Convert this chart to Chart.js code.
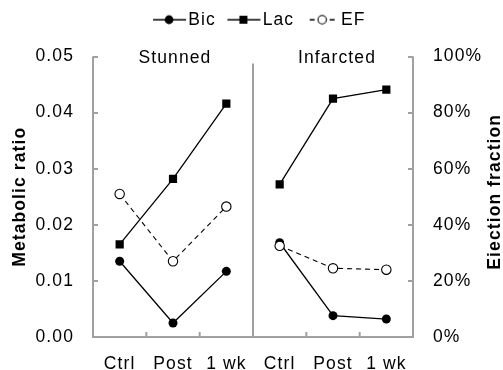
<!DOCTYPE html>
<html>
<head>
<meta charset="utf-8">
<script src="https://cdn.jsdelivr.net/npm/chart.js@4.4.1/dist/chart.umd.min.js"></script>
<style>
html, body { margin: 0; padding: 0; background: #fff; }
#wrap { width: 503px; height: 370px; }
</style>
</head>
<body>
<div id="wrap"><canvas id="myChart"></canvas></div>
<script>
// values
var labels = ["Ctrl", "Post", "1 wk", "Ctrl", "Post", "1 wk"];
var panels = ["Stunned", "Infarcted"];
var bic = [0.0135, 0.0025, 0.0117, 0.0168, 0.0038, 0.0032];
var lac = [0.0165, 0.0282, 0.0416, 0.0272, 0.0425, 0.0441];
var ef = [51, 27, 46.5, 32.5, 24.5, 24];

var axisGray = '#a0a0a0';
var FONT = "'Liberation Sans', Arial, sans-serif";
var SPACING = '1.1px';
Chart.defaults.font.family = FONT;
Chart.defaults.font.size = 17.5;
Chart.defaults.color = '#000';

// no line between the two panels
function gap(color) {
	return function (ctx) { return ctx.p0DataIndex === 2 ? 'rgba(0,0,0,0)' : color; };
}

function legendIcon(kind) {
	var c = document.createElement('canvas');
	c.width = 44; c.height = 14;
	var g = c.getContext('2d');
	g.strokeStyle = '#000';
	g.lineWidth = 1.4;
	g.beginPath();
	if (kind == 'ef') {
		g.moveTo(13, 7); g.lineTo(18, 7);
		g.moveTo(33, 7); g.lineTo(38, 7);
	} else {
		g.moveTo(9, 7); g.lineTo(42, 7);
	}
	g.stroke();
	g.fillStyle = '#000';
	if (kind == 'bic') {
		g.beginPath(); g.arc(25, 7, 4.4, 0, Math.PI * 2); g.fill();
	} else if (kind == 'lac') {
		g.fillRect(21, 3, 8, 8);
	} else {
		g.fillStyle = '#fff';
		g.lineWidth = 1.1;
		g.beginPath(); g.arc(25.5, 7, 4.2, 0, Math.PI * 2); g.fill(); g.stroke();
	}
	return c;
}
var icons = { bic: legendIcon('bic'), lac: legendIcon('lac'), ef: legendIcon('ef') };

// text in the picture is a little wider than Liberation Sans
var spacingPlugin = {
	id: 'spacingPlugin',
	beforeUpdate: function (chart) { chart.ctx.letterSpacing = SPACING; },
	beforeDraw: function (chart) { chart.ctx.letterSpacing = SPACING; }
};

var axesPlugin = {
	id: 'axesPlugin',
	beforeDatasetsDraw: function (chart) {
		var ctx = chart.ctx, a = chart.chartArea;
		var x = chart.scales.x, y = chart.scales.y, y2 = chart.scales.y2;
		ctx.save();
		ctx.strokeStyle = axisGray;
		ctx.lineWidth = 2;
		ctx.beginPath();
		ctx.moveTo(a.left, a.top); ctx.lineTo(a.left, a.bottom); ctx.lineTo(a.right, a.bottom); ctx.lineTo(a.right, a.top);
		y.ticks.forEach(function (t) {
			var py = Math.round(y.getPixelForValue(t.value));
			ctx.moveTo(a.left, py); ctx.lineTo(a.left + 5, py);
		});
		y2.ticks.forEach(function (t) {
			var py = Math.round(y2.getPixelForValue(t.value));
			ctx.moveTo(a.right, py); ctx.lineTo(a.right - 5, py);
		});
		for (var i = 1; i < labels.length; i++) {
			var px = (x.getPixelForValue(i - 1) + x.getPixelForValue(i)) / 2;
			ctx.moveTo(px, a.bottom);
			ctx.lineTo(px, i == 3 ? a.top + 7 : a.bottom - 5);
		}
		ctx.stroke();
		ctx.restore();
	},
	afterDraw: function (chart) {
		var ctx = chart.ctx, a = chart.chartArea, x = chart.scales.x;
		var mid = (a.top + a.bottom) / 2;
		ctx.save();
		ctx.letterSpacing = SPACING;
		ctx.fillStyle = '#000';
		ctx.textAlign = 'center';
		ctx.textBaseline = 'middle';
		ctx.font = '17.5px ' + FONT;
		ctx.fillText(panels[0], x.getPixelForValue(1) + 2, a.top + 2);
		ctx.fillText(panels[1], x.getPixelForValue(4) + 4, a.top + 2);
		ctx.font = 'bold 17.5px ' + FONT;
		ctx.save();
		ctx.translate(20, mid);
		ctx.rotate(-Math.PI / 2);
		ctx.fillText('Metabolic ratio', 0, 0);
		ctx.restore();
		ctx.translate(495, mid - 5);
		ctx.rotate(-Math.PI / 2);
		ctx.fillText('Eiection fraction', 0, 0);
		ctx.restore();
	}
};

var ctx = document.getElementById('myChart').getContext('2d');
var myChart = new Chart(ctx, {
	type: 'line',
	data: {
		labels: labels,
		datasets: [{
			label: 'Bic',
			data: bic,
			yAxisID: 'y',
			order: 1,
			borderColor: '#000',
			borderWidth: 1.3,
			segment: { borderColor: gap('#000') },
			pointStyle: 'circle',
			pointRadius: 4.5,
			pointBackgroundColor: '#000',
			pointBorderColor: '#000',
			pointBorderWidth: 0
		}, {
			label: 'Lac',
			data: lac,
			yAxisID: 'y',
			order: 2,
			borderColor: '#000',
			borderWidth: 1.3,
			segment: { borderColor: gap('#000') },
			pointStyle: 'rect',
			pointRadius: 5.8,
			pointBackgroundColor: '#000',
			pointBorderColor: '#000',
			pointBorderWidth: 0
		}, {
			label: 'EF',
			data: ef,
			yAxisID: 'y2',
			order: 0,
			borderColor: '#000',
			borderWidth: 1.1,
			borderDash: [5, 4],
			segment: { borderColor: gap('#000') },
			pointStyle: 'circle',
			pointRadius: 4.7,
			pointBackgroundColor: '#fff',
			pointBorderColor: '#000',
			pointBorderWidth: 1.1
		}]
	},
	options: {
		responsive: true,
		maintainAspectRatio: false,
		animation: false,
		layout: { padding: { left: 15, top: 0, right: 0, bottom: 0 } },
		plugins: {
			tooltip: { enabled: false },
			legend: {
				position: 'top',
				labels: {
					usePointStyle: true,
					pointStyleWidth: 27,
					padding: 11,
					generateLabels: function (chart) {
						return [['Bic', 'bic', 0], ['Lac', 'lac', 1], ['EF', 'ef', 2]].map(function (d) {
							return { text: d[0], pointStyle: icons[d[1]], datasetIndex: d[2], hidden: false, lineWidth: 0, fontColor: '#000' };
						});
					}
				}
			}
		},
		scales: {
			x: {
				offset: true,
				grid: { display: false },
				border: { display: false },
				ticks: { padding: 9, maxRotation: 0, autoSkip: false },
				afterFit: function (s) { s.height = 33; }
			},
			xTop: {
				type: 'category',
				position: 'top',
				grid: { display: false },
				border: { display: false },
				ticks: { display: false },
				afterFit: function (s) { s.height = 18; }
			},
			y: {
				position: 'left',
				min: 0, max: 0.05,
				grid: { display: false },
				border: { display: false },
				ticks: { stepSize: 0.01, padding: 11, callback: function (v) { return v.toFixed(2); } },
				afterFit: function (s) { s.width = 78; }
			},
			y2: {
				position: 'right',
				min: 0, max: 100,
				grid: { display: false },
				border: { display: false },
				ticks: { stepSize: 20, padding: 12, callback: function (v) { return v + '%'; } },
				afterFit: function (s) { s.width = 90; }
			}
		}
	},
	plugins: [spacingPlugin, axesPlugin]
});
</script>
</body>
</html>
